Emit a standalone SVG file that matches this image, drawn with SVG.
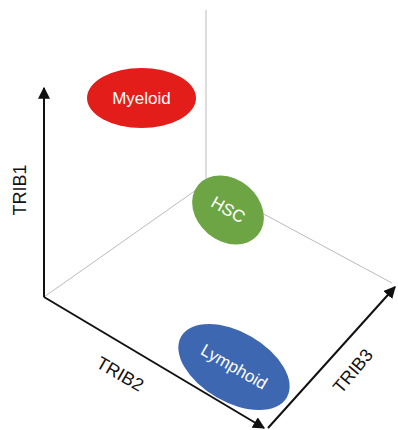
<svg xmlns="http://www.w3.org/2000/svg" width="398" height="430" viewBox="0 0 398 430">
<style>
.axis{stroke:#111;stroke-width:2;fill:none}
.grid{stroke:#bbb;stroke-width:1;fill:none}
.lbl{font-family:"Liberation Sans",Arial,sans-serif;font-size:18px;fill:#111;text-anchor:middle;dominant-baseline:central}
.ntx{font-family:"Liberation Sans",Arial,sans-serif;font-size:17px;fill:#fff;text-anchor:middle;dominant-baseline:central}
</style>
<defs>
<marker id="ah" viewBox="0 0 10 10" refX="9" refY="5" markerWidth="6" markerHeight="6" orient="auto" markerUnits="strokeWidth">
<path d="M0,0 L10,5 L0,10 z" fill="#111"/>
</marker>
</defs>
<rect width="398" height="430" fill="#fff"/>
<g id="connectors">
<line class="grid" x1="206" y1="10" x2="206" y2="183"/>
<line class="grid" x1="44" y1="297" x2="206" y2="183"/>
<line class="grid" x1="206" y1="183" x2="392" y2="283"/>
<path class="axis" d="M44,297 L44,88" marker-end="url(#ah)"/>
<path class="axis" d="M44,297 L264,428" marker-end="url(#ah)"/>
<path class="axis" d="M268,428 L395,287" marker-end="url(#ah)"/>
</g>
<g id="label-trib1"><text class="lbl" transform="translate(20,190) rotate(-90)">TRIB1</text></g>
<g id="label-trib2"><text class="lbl" transform="translate(120,374) rotate(30)">TRIB2</text></g>
<g id="label-trib3"><text class="lbl" transform="translate(353,371) rotate(-50)">TRIB3</text></g>
<g id="myeloid">
<ellipse cx="141.5" cy="98" rx="54.5" ry="30" fill="#E31E1A"/>
<text class="ntx" x="141.5" y="98">Myeloid</text>
</g>
<g id="hsc">
<ellipse cx="228" cy="210" rx="39" ry="31" fill="#6DA544" transform="rotate(40 228 210)"/>
<text class="ntx" transform="translate(228,210) rotate(30)">HSC</text>
</g>
<g id="lymphoid">
<ellipse cx="234" cy="367" rx="61" ry="35" fill="#3E67B1" transform="rotate(30 234 367)"/>
<text class="ntx" transform="translate(234,367) rotate(30)">Lymphoid</text>
</g>
</svg>
